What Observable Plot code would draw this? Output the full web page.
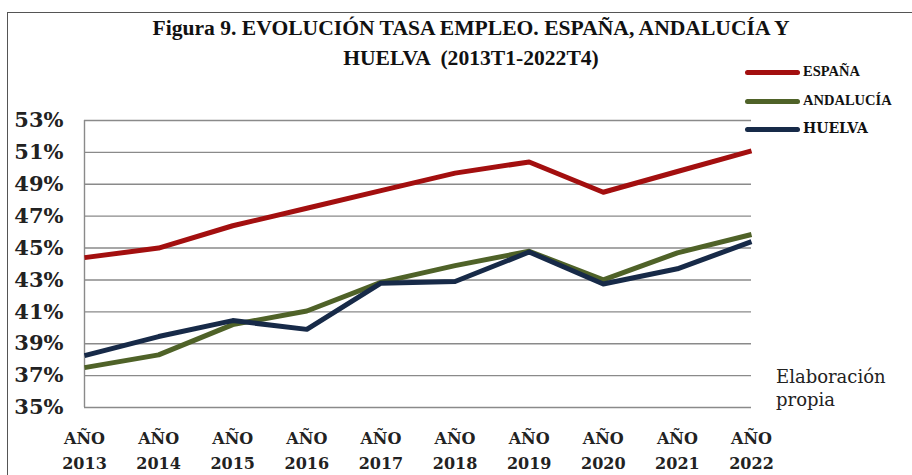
<!DOCTYPE html>
<html>
<head>
<meta charset="utf-8">
<script src="https://cdn.jsdelivr.net/npm/d3@7"></script>
<script src="https://cdn.jsdelivr.net/npm/@observablehq/plot@0.6"></script>
<style>
  html, body { margin: 0; padding: 0; background: #fff; }
  #wrap { position: relative; width: 912px; height: 475px; overflow: hidden; background: #fff; }
  #frame { position: absolute; left: 7px; top: 12px; width: 920px; height: 480px;
           border-left: 1.5px solid #555; border-top: 1.5px solid #555; box-sizing: border-box; }
  #chart { position: absolute; left: 0; top: 0; }
  .title { position: absolute; left: 0; width: 942px; text-align: center;
           font-family: "Liberation Serif", serif; font-weight: bold; font-size: 21.6px; color: #111; white-space: pre; }
  .leg { position: absolute; left: 745px; height: 14px; }
  .leg .sw { position: absolute; left: 0; top: 4px; width: 55px; height: 5px; border-radius: 3px; }
  .leg .lb { position: absolute; left: 58px; top: -3px; font-weight: bold; color: #111; white-space: nowrap; }
  #caption { position: absolute; left: 776px; top: 365px; font-family: "DejaVu Serif", serif;
             font-size: 18px; line-height: 23px; color: #222; }
</style>
</head>
<body>
<div id="wrap">
  <div id="frame"></div>
  <div id="chart"></div>
  <div class="title" style="top:16px">Figura 9. EVOLUCIÓN TASA EMPLEO. ESPAÑA, ANDALUCÍA Y</div>
  <div class="title" style="top:46px">HUELVA  (2013T1-2022T4)</div>
  <div id="legend"></div>
  <div id="caption">Elaboración<br>propia</div>
</div>
<script>
const years = [2013, 2014, 2015, 2016, 2017, 2018, 2019, 2020, 2021, 2022];
const espana    = [44.4, 45.0, 46.4, 47.5, 48.6, 49.7, 50.4, 48.5, 49.8, 51.1];
const andalucia = [37.5, 38.3, 40.2, 41.05, 42.85, 43.9, 44.8, 43.0, 44.7, 45.85];
const huelva    = [38.25, 39.45, 40.45, 39.9, 42.8, 42.9, 44.75, 42.75, 43.7, 45.4];
const yTicks = [35, 37, 39, 41, 43, 45, 47, 49, 51, 53];
const seriesNames = ["ESPAÑA", "ANDALUCÍA", "HUELVA"];
const seriesColors = ["#A30F0F", "#4F6228", "#172A48"];
const xPrefix = "AÑO";

const seriesValues = [espana, andalucia, huelva];
const table = seriesNames.flatMap((name, i) =>
  years.map((year, j) => ({series: name, year, value: seriesValues[i][j]})));

const plot = Plot.plot({
  width: 912,
  height: 475,
  marginLeft: 84,
  marginRight: 161,
  marginTop: 120,
  marginBottom: 68,
  style: {background: "transparent", overflow: "visible"},
  x: {domain: [years[0], years[years.length - 1]], type: "linear"},
  y: {domain: [yTicks[0], yTicks[yTicks.length - 1]]},
  color: {domain: seriesNames, range: seriesColors},
  marks: [
    Plot.gridY(yTicks, {stroke: "#8a8a8a", strokeOpacity: 1, strokeWidth: 1.4}),
    Plot.ruleX([years[0]], {stroke: "#8a8a8a", strokeWidth: 1.4}),
    Plot.axisY(yTicks, {
      tickSize: 0, tickPadding: 21, tickFormat: d => d + "%",
      fontFamily: "DejaVu Serif", fontWeight: "bold", fontSize: 21, fill: "#222", label: null
    }),
    Plot.axisX(years, {
      tickSize: 0, tickPadding: 19, tickFormat: d => xPrefix + "\n" + d,
      fontFamily: "DejaVu Serif", fontWeight: "bold", fontSize: 16, lineHeight: 1.55, fill: "#222", label: null
    }),
    Plot.line(table, {x: "year", y: "value", z: "series", stroke: "series", strokeWidth: 5,
      strokeLinejoin: "round", strokeLinecap: "butt"})
  ]
});
document.getElementById("chart").appendChild(plot);

const legendTops = [66, 95, 123];
const legendFonts = [
  'font-family:"Liberation Serif",serif;font-size:14.5px;',
  'font-family:"Liberation Serif",serif;font-size:14.5px;',
  'font-family:"DejaVu Serif",serif;font-size:14px;'
];
const legend = document.getElementById("legend");
seriesNames.forEach((name, i) => {
  const d = document.createElement("div");
  d.className = "leg";
  d.style.top = legendTops[i] + "px";
  d.innerHTML = `<div class="sw" style="background:${seriesColors[i]}"></div><div class="lb" style='${legendFonts[i]}'>${name}</div>`;
  legend.appendChild(d);
});
</script>
</body>
</html>
